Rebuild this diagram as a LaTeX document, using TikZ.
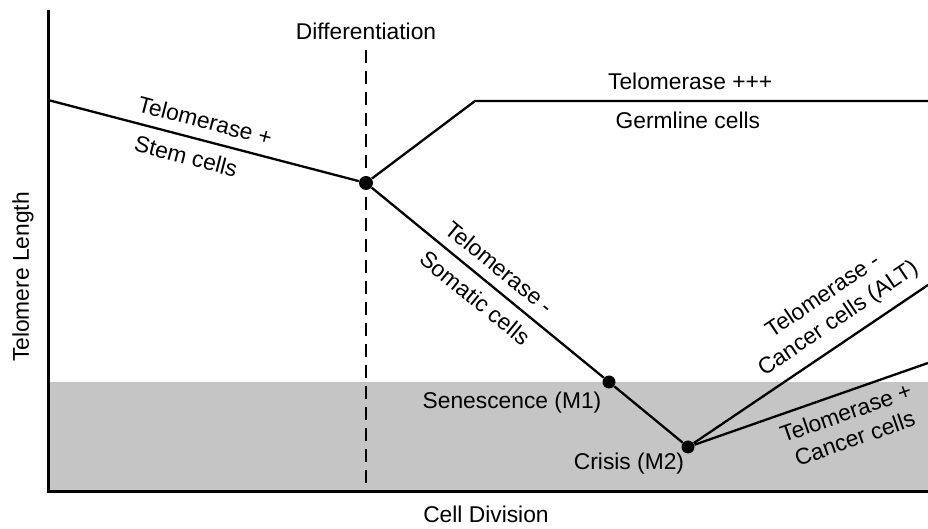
\documentclass[tikz,border=0pt]{standalone}
\usepackage{fontspec}
\setmainfont{Liberation Sans}
\usetikzlibrary{positioning}
\definecolor{zonegray}{HTML}{C6C5C6}
\tikzset{
  curve/.style={line width=1.15pt},
  axisline/.style={line width=1.5pt},
  lbl/.style={font=\fontsize{11.4}{13.6}\selectfont, inner sep=5pt, align=center},
  dot/.style={circle, fill=black, inner sep=0pt, minimum size=6.5pt}
}
\begin{document}
\begin{tikzpicture}[x=0.5pt, y=-0.5pt]
\useasboundingbox (0,0) rectangle (928,529);

% zone below the senescence limit
\fill[zonegray] (48,382) rectangle (928,492);

% axes
\coordinate (ytop) at (48,10);
\coordinate (origin) at (48,492);
\coordinate (xend) at (928,492);
\draw[axisline] (ytop) -- (origin) -- (xend);
\node[lbl, rotate=90] (ylab) at (23,277) {Telomere Length};
\node[lbl] (xlab) at (486,514) {Cell Division};

% differentiation
\coordinate (dtop) at (366,50);
\coordinate (dbot) at (366,492);
\draw[line width=1.35pt, dash pattern=on 6.5pt off 4pt] (dtop) -- (dbot);
\node[lbl, above] (difflab) at (dtop) {Differentiation};

\coordinate (stem) at (48,100);
\node[dot, minimum size=7pt] (diff) at (366,183) {};
\coordinate (germ) at (475,101);
\coordinate (germend) at (928,101);
\node[dot] (sen) at (609,382) {};
\node[dot] (crisis) at (688,447) {};
\coordinate (altend) at (928,285);
\coordinate (canend) at (928,363);

\draw[curve] (stem) -- node[lbl, sloped, above, pos=0.49] {Telomerase +} node[lbl, sloped, below, pos=0.46] {Stem cells} (diff);
\draw[curve] (diff) -- (germ) -- node[lbl, above, pos=0.475] {Telomerase +++} node[lbl, below, pos=0.47] {Germline cells} (germend);
\draw[curve] (diff) -- node[lbl, sloped, above] {Telomerase -} node[lbl, sloped, below] {Somatic cells} (sen) -- (crisis);
\draw[curve] (crisis) -- node[lbl, sloped, above, pos=0.67] {Telomerase -\\Cancer cells (ALT)} (altend);
\draw[curve] (crisis) -- node[lbl, sloped, below, pos=0.62] {Telomerase +\\Cancer cells} (canend);

\node[lbl] (senlab) at (512,403) {Senescence (M1)};
\node[lbl] (crisislab) at (629,464) {Crisis (M2)};
\end{tikzpicture}
\end{document}
